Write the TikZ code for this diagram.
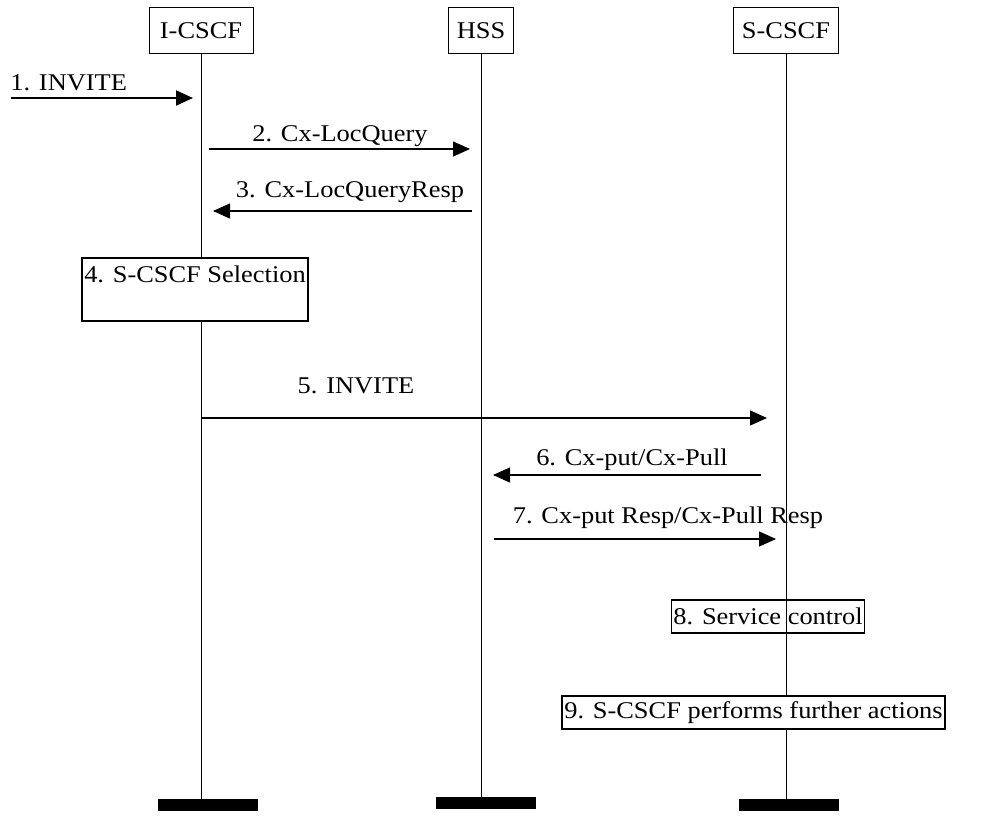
\documentclass[tikz,border=0pt]{standalone}
\usepackage{fontspec}
\setmainfont{Liberation Serif}[FakeStretch=1.1]
\usetikzlibrary{arrows.meta,positioning}

\begin{document}
\begin{tikzpicture}[
  x=0.5pt,y=-0.5pt,
  font=\fontsize{12}{14}\selectfont,
  ent/.style={draw,line width=0.5pt,minimum height=23pt,inner xsep=4pt,inner ysep=0pt},
  act/.style={draw,line width=0.9pt,inner xsep=1pt,inner ysep=0pt,minimum height=16.5pt},
  bar/.style={fill=black,minimum width=50pt,minimum height=6pt,inner sep=0pt},
  life/.style={line width=0.5pt},
  lbl/.style={anchor=base,inner sep=0pt},
  msg/.style={-{Triangle[length=8.5pt,width=7.5pt]},line width=0.6pt}]
\useasboundingbox (0,0) rectangle (1000,818);
% entities
\node[ent,minimum width=52pt] (icscf) at (201,31) {I-CSCF};
\node[ent,minimum width=31.5pt] (hss) at (481,31) {HSS};
\node[ent,minimum width=49.5pt] (scscf) at (786,31) {S-CSCF};
% end bars
\node[bar] (icscf-end) at (208,805) {};
\node[bar] (hss-end) at (486,803) {};
\node[bar] (scscf-end) at (789,805) {};
% lifelines
\foreach \e in {icscf,hss,scscf}
  \draw[life] (\e.south) -- (\e.south |- \e-end.north);
% actions
\node[act,fill=white,text height=12pt,text depth=19.5pt] (sel) at (195,289.5) {4. S-CSCF Selection};
\node[act] (svc) at (768,616.5) {8. Service control};
\node[act,fill=white] (further) at (753.5,712.5) {9. S-CSCF performs further actions};
% messages
\foreach \n/\y/\xa/\xb in {1/98/11/193,2/149/209/470,3/211/472/213,5/418/202/767,6/475/761/493,7/539/494/776}{
  \coordinate (m\n-from) at (\xa,\y);
  \coordinate (m\n-to) at (\xb,\y);
}
\draw[msg,line width=1pt] (m1-from) -- (m1-to);
\foreach \n in {2,3,5,6,7}
  \draw[msg] (m\n-from) -- (m\n-to);
\node[lbl,anchor=base west] (l1) at (10,91) {1. INVITE};
\node[lbl] (l2) at (340,142) {2. Cx-LocQuery};
\node[lbl] (l3) at (350,198) {3. Cx-LocQueryResp};
\node[lbl] (l5) at (356,393) {5. INVITE};
\node[lbl] (l6) at (632,465) {6. Cx-put/Cx-Pull};
\node[lbl] (l7) at (668,523) {7. Cx-put Resp/Cx-Pull Resp};
\end{tikzpicture}
\end{document}
